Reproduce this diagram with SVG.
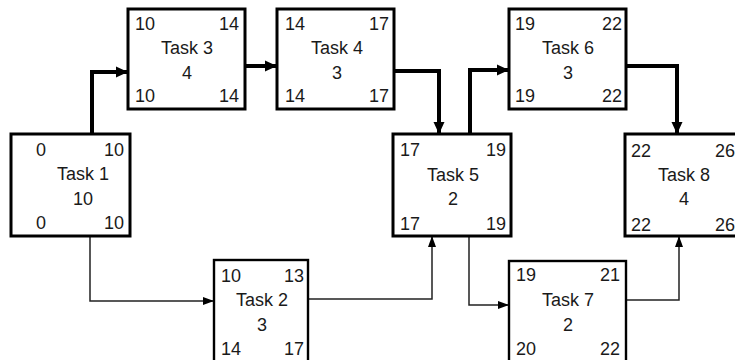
<svg xmlns="http://www.w3.org/2000/svg" width="735" height="360" viewBox="0 0 735 360">
  <defs>
    <marker id="headThick" markerUnits="userSpaceOnUse" markerWidth="12" markerHeight="12" refX="12" refY="6" orient="auto">
      <path d="M0,0.5 L12,6 L0,11.5 Z" fill="#000"/>
    </marker>
    <marker id="headThin" markerUnits="userSpaceOnUse" markerWidth="11" markerHeight="9" refX="11" refY="4.5" orient="auto">
      <path d="M0,0.5 L11,4.5 L0,8.5 Z" fill="#000"/>
    </marker>
  </defs>
  <style>
    .box { fill: #fff; stroke: #000; stroke-width: 3; }
    .box.thin { stroke-width: 2.4; }
    text { font-family: "Liberation Sans", Arial, sans-serif; font-size: 18px; fill: #1a1a1a; }
    .c { text-anchor: middle; }
    .r { text-anchor: end; }
    .crit { fill: none; stroke: #000; stroke-width: 4; marker-end: url(#headThick); }
    .norm { fill: none; stroke: #222; stroke-width: 1.5; marker-end: url(#headThin); }
  </style>

  <g id="connectors">
    <path class="crit" d="M92,134 V72 H128"/>
    <path class="crit" d="M245,66 H277"/>
    <path class="crit" d="M394,71 H439 V134"/>
    <path class="crit" d="M470,134 V70 H509"/>
    <path class="crit" d="M626,66 H677 V134"/>
    <path class="norm" d="M90,236 V301 H214"/>
    <path class="norm" d="M308,299 H432 V236"/>
    <path class="norm" d="M469,236 V305 H509"/>
    <path class="norm" d="M626,300 H679 V236"/>
  </g>

  <g id="task1">
    <rect class="box" x="11" y="134" width="119" height="102"/>
    <text x="36" y="156">0</text>
    <text class="r" x="124" y="156">10</text>
    <text class="c" x="83" y="180">Task 1</text>
    <text class="c" x="83" y="205">10</text>
    <text x="36" y="229">0</text>
    <text class="r" x="124" y="229">10</text>
  </g>

  <g id="task3">
    <rect class="box" x="128" y="9" width="117" height="100"/>
    <text x="135" y="30">10</text>
    <text class="r" x="239" y="30">14</text>
    <text class="c" x="187" y="54">Task 3</text>
    <text class="c" x="187" y="79">4</text>
    <text x="135" y="102">10</text>
    <text class="r" x="239" y="102">14</text>
  </g>

  <g id="task4">
    <rect class="box" x="277" y="9" width="117" height="100"/>
    <text x="285" y="30">14</text>
    <text class="r" x="389" y="30">17</text>
    <text class="c" x="337" y="54">Task 4</text>
    <text class="c" x="337" y="79">3</text>
    <text x="285" y="102">14</text>
    <text class="r" x="389" y="102">17</text>
  </g>

  <g id="task5">
    <rect class="box" x="393" y="134" width="118" height="102"/>
    <text x="400" y="156">17</text>
    <text class="r" x="506" y="156">19</text>
    <text class="c" x="453" y="181">Task 5</text>
    <text class="c" x="453" y="205">2</text>
    <text x="400" y="230">17</text>
    <text class="r" x="506" y="230">19</text>
  </g>

  <g id="task6">
    <rect class="box" x="509" y="9" width="117" height="100"/>
    <text x="515" y="30">19</text>
    <text class="r" x="622" y="30">22</text>
    <text class="c" x="568" y="54">Task 6</text>
    <text class="c" x="568" y="79">3</text>
    <text x="515" y="102">19</text>
    <text class="r" x="622" y="102">22</text>
  </g>

  <g id="task8">
    <rect class="box" x="625" y="134" width="117" height="102"/>
    <text x="631" y="157">22</text>
    <text x="715" y="157">26</text>
    <text class="c" x="684" y="181">Task 8</text>
    <text class="c" x="684" y="205">4</text>
    <text x="631" y="231">22</text>
    <text x="715" y="231">26</text>
  </g>

  <g id="task2">
    <rect class="box thin" x="214" y="260" width="94" height="110"/>
    <text x="221" y="282">10</text>
    <text class="r" x="304" y="282">13</text>
    <text class="c" x="262" y="306">Task 2</text>
    <text class="c" x="262" y="331">3</text>
    <text x="221" y="355">14</text>
    <text class="r" x="304" y="355">17</text>
  </g>

  <g id="task7">
    <rect class="box thin" x="509" y="261" width="117" height="110"/>
    <text x="516" y="281">19</text>
    <text class="r" x="620" y="281">21</text>
    <text class="c" x="568" y="306">Task 7</text>
    <text class="c" x="568" y="331">2</text>
    <text x="516" y="355">20</text>
    <text class="r" x="620" y="355">22</text>
  </g>
</svg>
